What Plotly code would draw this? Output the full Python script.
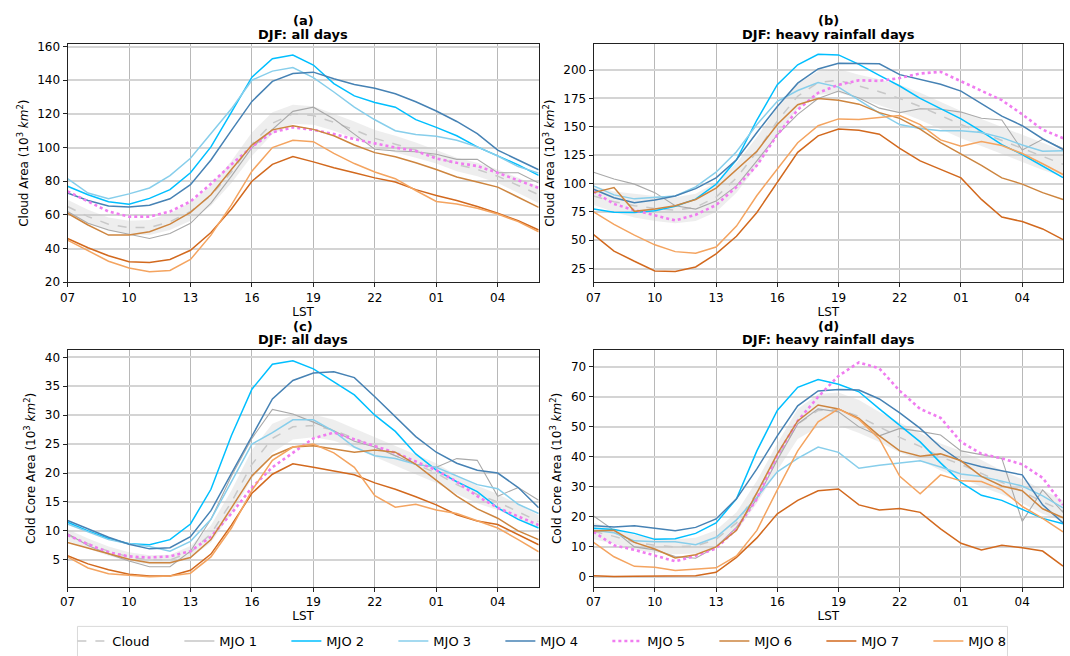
import plotly.graph_objects as go

# ---------------- data ----------------
hours = ["07", "08", "09", "10", "11", "12", "13", "14", "15", "16", "17", "18",
         "19", "20", "21", "22", "23", "00", "01", "02", "03", "04", "05", "06"]
tick_labels = ["07", "10", "13", "16", "19", "22", "01", "04"]
series_names = ["MJO 1", "MJO 2", "MJO 3", "MJO 4", "MJO 5", "MJO 6", "MJO 7", "MJO 8"]

# (a) Cloud area, all days
a_cloud = [65, 59, 54.5, 52.5, 52.5, 56, 62, 71.5, 85.5, 102, 114.5, 120, 119, 115, 110.5, 105.5, 102, 98.5, 94.5, 90, 87, 83, 77.5, 72]
a_cloud_lo = [61, 55, 50.5, 48.5, 48, 51, 56.5, 65.5, 79, 95, 108, 114, 113.5, 110, 105.5, 100.5, 97, 94, 90.5, 86, 83, 79, 73, 67]
a_cloud_hi = [69, 63, 58.5, 56.5, 57, 61, 67.5, 77.5, 92, 109, 121, 125.5, 124.5, 120, 115.5, 110.5, 107, 103, 98.5, 94, 91, 87, 82, 77]
a_mjo1 = [62, 55, 51, 48.5, 46, 49, 55, 67, 83, 100, 111, 121.5, 124, 117, 108, 99, 98, 97.5, 96, 93, 93, 85, 85, 79]
a_mjo2 = [77, 72, 67.8, 66.3, 69.8, 75, 85, 100.4, 121, 141.8, 152.8, 155, 149, 138, 130.7, 126.8, 124, 116.6, 112, 107, 100.4, 95, 89.7, 83.5]
a_mjo3 = [81.5, 73, 69.6, 72.5, 76, 83.3, 93.6, 108, 123, 140, 145.4, 147.5, 141.5, 133, 124, 116.5, 110, 107.7, 106.7, 104.3, 100.4, 95, 88.7, 84.8]
a_mjo4 = [73, 68.6, 65.3, 64.7, 65.7, 69.6, 78, 92.6, 110.2, 127.4, 139.3, 144, 144.8, 140.9, 137.5, 135.2, 132, 127.2, 121.7, 115.5, 108.3, 98.5, 92.6, 86.8]
a_mjo5 = [74, 68, 62, 59, 59, 62, 68, 78.5, 90, 100.5, 109, 112, 110.5, 108, 105, 102.5, 100, 98, 93.5, 91, 89, 85, 80.5, 76]
a_mjo6 = [61, 54, 48, 48, 50, 54.5, 61.5, 72, 87, 101.5, 110.5, 113, 110.8, 107, 101.5, 97, 94.5, 91, 87, 82.5, 79.5, 76.5, 70.5, 64.5]
a_mjo7 = [46, 40.5, 35.7, 32.2, 31.7, 33.5, 39, 49.5, 63.5, 80, 90, 94.7, 91.5, 88, 85, 82, 79.5, 75, 71.5, 68.5, 65, 61, 56.5, 51]
a_mjo8 = [45, 38.5, 32.5, 28.5, 26.2, 27, 33.5, 48, 66, 86, 100, 104.3, 103.5, 96.5, 90.5, 85.5, 81.5, 74.5, 68, 66.5, 64, 60.5, 56, 50]

# (b) Cloud area, heavy rainfall days
b_cloud = [89, 84, 80.5, 78, 76.5, 79, 88, 105, 128, 155, 177, 189, 191, 186, 181, 175, 168, 160, 152, 145, 138, 131, 124, 117]
b_cloud_lo = [81, 75, 70, 67, 65, 67, 75, 92, 115, 143, 166, 178, 180, 175, 169, 163, 156, 148, 140, 133, 126, 119, 112, 106]
b_cloud_hi = [98, 93, 91, 89, 88, 91, 101, 118, 141, 167, 188, 199, 201, 196, 192, 187, 180, 172, 164, 157, 150, 143, 136, 129]
b_mjo1 = [110, 104, 99.5, 92, 80.5, 77.5, 84.5, 98, 120, 143, 161, 175, 181.5, 175.5, 166.5, 162.5, 166, 165.5, 163, 157.5, 156, 129.5, 139, 131]
b_mjo2 = [77.6, 74.7, 74.5, 76, 80, 86.3, 99.4, 121, 156, 187.2, 204.7, 214, 213.4, 205, 195.3, 186, 175, 166.3, 157, 146, 134.3, 125.6, 115.4, 105.2]
b_mjo3 = [98, 90, 86.5, 87.5, 89, 97, 110, 128, 152, 172.5, 182, 189, 185, 173.5, 162, 152, 148.5, 146.5, 146.5, 145, 140.5, 134, 128.5, 129]
b_mjo4 = [95, 87.5, 83, 85.5, 89, 95.5, 105, 121, 145, 168, 188.5, 201, 206, 206, 205.5, 196, 192, 187.5, 181.5, 170.5, 159.5, 151, 139.5, 130]
b_mjo5 = [93, 82, 76.5, 72, 67.5, 72.5, 81, 97, 116, 143, 165, 180, 187, 191, 190.5, 193, 197, 198.5, 190, 182, 173.5, 161, 147.5, 140]
b_mjo6 = [92, 96.5, 75.5, 77.5, 80.5, 86, 96, 112, 128.5, 152, 169.5, 175, 173.5, 170, 162.5, 157.5, 148, 136, 126, 116, 105, 99.5, 92, 86]
b_mjo7 = [55, 40.5, 31.5, 23, 22.5, 26.5, 38, 53.5, 74.5, 101, 127.5, 142, 148, 147, 143.5, 131, 120, 112.5, 105, 86, 70.5, 66.5, 60, 50.5]
b_mjo8 = [75, 64, 54.5, 46, 40, 38.5, 44, 62.5, 89.5, 113, 136, 151, 157, 156.5, 158, 160, 152, 138.5, 133, 137, 133.5, 126.5, 117.5, 108]

# (c) Cold core area, all days
c_cloud = [9.3, 7.8, 6.5, 5.5, 5, 5, 6.3, 9.5, 15, 21.5, 26, 28, 28.2, 27.4, 26, 24.5, 23, 21.5, 20, 18, 16.3, 15, 13.3, 11.6]
c_cloud_lo = [8.3, 6.9, 5.7, 4.7, 4.2, 4.2, 5.3, 8, 13, 19, 23.5, 25.8, 26.2, 25.6, 24.3, 22.8, 21.3, 19.8, 18.3, 16.4, 14.8, 13.6, 12, 10.5]
c_cloud_hi = [10.3, 8.7, 7.3, 6.3, 5.8, 5.9, 7.4, 11, 17, 24, 28.5, 30, 30.1, 29.2, 27.7, 26.2, 24.7, 23.2, 21.7, 19.6, 17.8, 16.4, 14.6, 12.7]
c_mjo1 = [9.5, 7.5, 6, 4.8, 3.8, 3.8, 6.5, 12, 19.5, 26, 31, 30.2, 28.8, 27.3, 25.5, 24.5, 23, 21.5, 21, 22.5, 22.2, 16, 17.5, 15.3]
c_mjo2 = [11.5, 10, 8.7, 7.8, 7.6, 8.5, 11.2, 17.2, 26.5, 34.5, 38.8, 39.4, 38, 35.8, 33.5, 30, 27.2, 23.3, 20.5, 18.5, 16.8, 14, 12, 10.5]
c_mjo3 = [11.2, 9.8, 8.5, 7.8, 7.3, 6.5, 8.2, 12, 18.5, 25, 27, 29.2, 29.2, 27.2, 24.5, 23, 22.5, 21.5, 21, 19.5, 18, 17.3, 14.6, 13]
c_mjo4 = [11.8, 10.3, 8.9, 7.7, 6.9, 7.1, 9, 13.5, 20, 26.5, 32.8, 36, 37.3, 37.5, 36.5, 33.2, 29.8, 26.3, 23.6, 21.7, 20.5, 20, 17.5, 14]
c_mjo5 = [9.3, 7.7, 6.3, 5.6, 5.4, 5.6, 6.5, 9, 13, 17.5, 21, 23.5, 26, 27, 25.8, 24.6, 23.5, 22, 20.5, 18.5, 16, 14, 12.5, 11]
c_mjo6 = [8, 7, 6, 5.1, 4.5, 4.5, 5.4, 8.5, 14, 19.5, 23, 24.5, 24.7, 24.1, 23.6, 24, 23.6, 21.5, 18.8, 16, 13.8, 12.2, 10, 8.5]
c_mjo7 = [5.7, 4.3, 3.3, 2.5, 2.2, 2.2, 3.2, 6, 11, 16.5, 19.8, 21.6, 21, 20.4, 19.7, 18.3, 17.2, 15.9, 14.5, 12.8, 11.7, 11.1, 9.3, 7.6]
c_mjo8 = [5.5, 3.6, 2.6, 2.3, 2.1, 2.2, 2.7, 5.5, 10.5, 17, 22.2, 24.5, 25, 23.5, 21, 16.1, 14.1, 14.6, 13.6, 13, 11.8, 10.5, 8.5, 6.4]

# (d) Cold core area, heavy rainfall days
d_cloud = [15.2, 13.5, 11.5, 10.5, 10, 10.3, 12.5, 18, 28, 40, 51, 55.5, 55.8, 53.5, 50, 46.5, 43.5, 40, 37.5, 34.5, 31.5, 28.5, 25, 22]
d_cloud_lo = [12.5, 11, 9, 8, 7.5, 7.8, 10, 15, 24.5, 35.5, 46, 50, 50.5, 48, 45, 41.5, 39, 35.5, 33, 30, 27.5, 24.5, 21, 18.5]
d_cloud_hi = [18, 16, 14, 13, 12.5, 13, 15.5, 21.5, 32, 44.5, 56, 61, 61.5, 59, 55, 51.5, 48, 44.5, 42, 39, 35.5, 32.5, 29, 25.5]
d_mjo1 = [20.3, 15.5, 10, 9, 6.8, 6.2, 10, 16.5, 26, 39, 51, 56, 55, 50, 47, 49.5, 48.5, 47.3, 42, 40.7, 39.5, 18.5, 29, 21.5]
d_mjo2 = [16.2, 15.8, 14.5, 12.5, 12.7, 14.5, 18, 26, 42, 55.5, 63.2, 65.8, 64.2, 61.7, 56, 50.5, 45, 38, 31.5, 27.2, 25.5, 22.5, 19.5, 17.7]
d_mjo3 = [15.5, 14.7, 12, 11.7, 11.7, 10.7, 13.2, 19, 26.5, 35, 39.5, 43.3, 41.5, 36.2, 37.2, 38, 38.7, 36.6, 34.3, 33.5, 32, 30.3, 27, 23]
d_mjo4 = [17, 16.6, 17, 16.2, 15.4, 16.5, 19.3, 26, 36, 47, 57, 62, 62.5, 62.3, 59.3, 54.7, 49.5, 43.2, 38.5, 36.7, 35.4, 34, 24, 18]
d_mjo5 = [15, 10.5, 9, 7, 5.2, 7, 9.5, 16, 26, 40.5, 52, 60, 67, 71.5, 69.5, 62, 56, 53, 45, 41, 39.5, 37.5, 33, 24]
d_mjo6 = [15.3, 15.5, 11.5, 9.3, 6.3, 7.4, 10, 15.5, 28, 41, 52, 57.3, 56, 52.8, 47, 42, 40.2, 41, 38.7, 33.5, 30.3, 28.7, 22.7, 19.7]
d_mjo7 = [0.4, 0.1, 0.2, 0.3, 0.3, 0.4, 1.5, 6.5, 13, 21, 25.5, 28.7, 29.3, 24, 22.3, 22.8, 21.5, 16, 11.2, 9, 10.5, 9.7, 8.6, 3.6]
d_mjo8 = [11.5, 6.7, 3.5, 3.2, 2.1, 2.5, 3, 7, 15.5, 29, 42, 51.7, 56, 52.5, 46, 33.5, 27.7, 34, 32, 31.8, 29, 23.5, 19.5, 15]

# ---------------- styles ----------------
colors = ["#a9a9a9", "#00bfff", "#87ceeb", "#4682b4", "#f07cf0", "#cd853f", "#d2691e", "#f4a460"]
widths = [1.1, 1.5, 1.5, 1.5, 2.6, 1.5, 1.5, 1.5]
dashes = ["solid", "solid", "solid", "solid", "dot", "solid", "solid", "solid"]

W, H = 1070, 656
FONT = "DejaVu Sans"

panels = [
    dict(letter="(a)", title="DJF: all days", ylab="Cloud Area (10<sup>3</sup> <i>km</i><sup>2</sup>)",
         cloud=a_cloud, lo=a_cloud_lo, hi=a_cloud_hi,
         mjo=[a_mjo1, a_mjo2, a_mjo3, a_mjo4, a_mjo5, a_mjo6, a_mjo7, a_mjo8],
         yrange=[20, 161.5], ytick=list(range(20, 161, 20)),
         px=(60, 534.7), py=(40.7, 283)),
    dict(letter="(b)", title="DJF: heavy rainfall days", ylab="Cloud Area (10<sup>3</sup> <i>km</i><sup>2</sup>)",
         cloud=b_cloud, lo=b_cloud_lo, hi=b_cloud_hi,
         mjo=[b_mjo1, b_mjo2, b_mjo3, b_mjo4, b_mjo5, b_mjo6, b_mjo7, b_mjo8],
         yrange=[13, 223], ytick=list(range(25, 201, 25)),
         px=(590, 1063), py=(40.7, 283)),
    dict(letter="(c)", title="DJF: all days", ylab="Cold Core Area (10<sup>3</sup> <i>km</i><sup>2</sup>)",
         cloud=c_cloud, lo=c_cloud_lo, hi=c_cloud_hi,
         mjo=[c_mjo1, c_mjo2, c_mjo3, c_mjo4, c_mjo5, c_mjo6, c_mjo7, c_mjo8],
         yrange=[0.3, 41.3], ytick=list(range(5, 41, 5)),
         px=(60, 534.7), py=(351.7, 593)),
    dict(letter="(d)", title="DJF: heavy rainfall days", ylab="Cold Core Area (10<sup>3</sup> <i>km</i><sup>2</sup>)",
         cloud=d_cloud, lo=d_cloud_lo, hi=d_cloud_hi,
         mjo=[d_mjo1, d_mjo2, d_mjo3, d_mjo4, d_mjo5, d_mjo6, d_mjo7, d_mjo8],
         yrange=[-3.4, 75.7], ytick=list(range(0, 71, 10)),
         px=(590, 1063), py=(351.7, 593)),
]

fig = go.Figure()
layout = dict(
    width=W, height=H, margin=dict(l=0, r=0, t=0, b=0),
    paper_bgcolor="white", plot_bgcolor="white",
    font=dict(family=FONT, size=12, color="black"),
    showlegend=True,
)
annotations = []
shapes = []
xi = list(range(len(hours)))
tickpos = [hours.index(t) for t in tick_labels]

for k, p in enumerate(panels):
    n = "" if k == 0 else str(k + 1)
    xa, ya = "x" + n, "y" + n
    show = (k == 0)
    # shaded band
    fig.add_trace(go.Scatter(x=xi, y=p["hi"], xaxis=xa, yaxis=ya, mode="lines",
                             line=dict(width=0, color="rgba(0,0,0,0)"), showlegend=False, hoverinfo="skip"))
    fig.add_trace(go.Scatter(x=xi, y=p["lo"], xaxis=xa, yaxis=ya, mode="lines", fill="tonexty",
                             fillcolor="rgba(200,200,200,0.30)",
                             line=dict(width=0, color="rgba(0,0,0,0)"), showlegend=False, hoverinfo="skip"))
    fig.add_trace(go.Scatter(x=xi, y=p["cloud"], xaxis=xa, yaxis=ya, mode="lines", name="Cloud",
                             legendgroup="Cloud", showlegend=show,
                             line=dict(color="#c8c8c8", width=1.5, dash="dash")))
    for j, nm in enumerate(series_names):
        fig.add_trace(go.Scatter(x=xi, y=p["mjo"][j], xaxis=xa, yaxis=ya, mode="lines", name=nm,
                                 legendgroup=nm, showlegend=show,
                                 line=dict(color=colors[j], width=widths[j], dash=dashes[j])))
    x0, x1 = p["px"][0] / W, p["px"][1] / W
    y0, y1 = 1 - p["py"][1] / H, 1 - p["py"][0] / H
    axis_common = dict(showline=True, linecolor="#222222", linewidth=1, mirror=True,
                       ticks="outside", ticklen=4, tickcolor="#222222",
                       tickfont=dict(family=FONT, size=12, color="black"), zeroline=False)
    layout["xaxis" + n] = dict(domain=[x0, x1], anchor=ya, range=[0, 23],
                               tickmode="array", tickvals=tickpos, ticktext=tick_labels,
                               showgrid=True, gridcolor="#b8b8b8", gridwidth=1,
                               title=dict(text="LST", font=dict(family=FONT, size=12), standoff=1),
                               **axis_common)
    layout["yaxis" + n] = dict(domain=[y0, y1], anchor=xa, range=p["yrange"],
                               tickmode="array", tickvals=p["ytick"],
                               showgrid=True, gridcolor="#d4d4d4", gridwidth=1.6,
                               title=dict(text=p["ylab"], font=dict(family=FONT, size=12), standoff=6),
                               **axis_common)
    cx = (x0 + x1) / 2
    annotations.append(dict(text="<b>" + p["letter"] + "</b>", x=cx, y=y1 + 24 / H, xref="paper", yref="paper",
                            showarrow=False, font=dict(family=FONT, size=13), xanchor="center", yanchor="middle"))
    annotations.append(dict(text="<b>" + p["title"] + "</b>", x=cx, y=y1 + 10 / H, xref="paper", yref="paper",
                            showarrow=False, font=dict(family=FONT, size=13), xanchor="center", yanchor="middle"))

# legend frame (drawn as a shape so it can sit where the reference frame is)
shapes.append(dict(type="rect", xref="paper", yref="paper", x0=70 / W, x1=1007 / W,
                   y0=-10 / H, y1=1 - 633 / H, line=dict(color="#d9d9d9", width=1),
                   fillcolor="white", layer="above"))

layout["annotations"] = annotations
layout["shapes"] = shapes
layout["legend"] = dict(orientation="h", x=0.514, xanchor="center", y=1 - 633 / H, yanchor="top",
                        borderwidth=0, bgcolor="rgba(255,255,255,0)",
                        font=dict(family=FONT, size=13), entrywidth=62, tracegroupgap=0)
fig.update_layout(**layout)
fig.write_html("out.html")
